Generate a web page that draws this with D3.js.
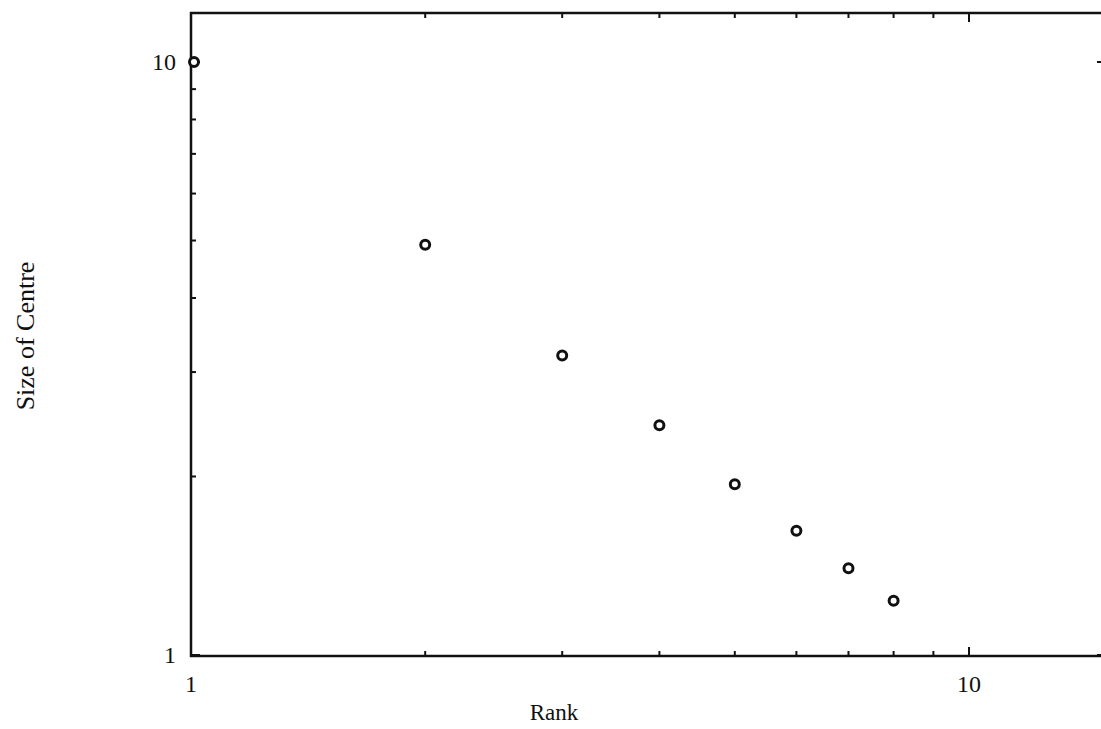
<!DOCTYPE html>
<html>
<head>
<meta charset="utf-8">
<script src="https://cdn.jsdelivr.net/npm/d3@7"></script>
<style>
  body { margin: 0; background: #fff; }
  text { font-family: "Liberation Serif", "DejaVu Serif", serif; fill: #111; }
</style>
</head>
<body>
<svg id="chart" width="1101" height="729"></svg>
<script>
// rank-size values
var ranks = [1, 2, 3, 4, 5, 6, 7, 8];
var sizes = [10, 4.92, 3.2, 2.44, 1.94, 1.62, 1.40, 1.235];
var xTickLabels = ["1", "10"];
var yTickLabels = ["1", "10"];

var svg = d3.select("#chart");

// frame edges (right edge falls just outside the picture)
var frame = { left: 191, right: 1106, top: 13, bottom: 656 };

var x = d3.scaleLog().domain([1, 10]).range([191, 969]);
var y = d3.scaleLog().domain([1, 10]).range([655, 62]);

var minor = d3.range(1, 11);

// frame
svg.append("rect")
    .attr("x", frame.left).attr("y", frame.top)
    .attr("width", frame.right - frame.left).attr("height", frame.bottom - frame.top)
    .attr("fill", "none")
    .attr("stroke", "#111")
    .attr("stroke-width", 2.5);

var tickLen = d => (d == 1 || d == 10) ? 9 : 5;

// x ticks, bottom (pointing up) and top (pointing down)
svg.append("g").selectAll("line")
    .data(minor)
    .enter().append("line")
    .attr("x1", d => x(d)).attr("x2", d => x(d))
    .attr("y1", frame.bottom).attr("y2", d => frame.bottom - tickLen(d))
    .attr("stroke", "#111").attr("stroke-width", 2);

svg.append("g").selectAll("line")
    .data(minor)
    .enter().append("line")
    .attr("x1", d => x(d)).attr("x2", d => x(d))
    .attr("y1", frame.top).attr("y2", d => frame.top + tickLen(d))
    .attr("stroke", "#111").attr("stroke-width", 2);

// y ticks, left (pointing right) and right (pointing left)
svg.append("g").selectAll("line")
    .data(minor)
    .enter().append("line")
    .attr("y1", d => y(d)).attr("y2", d => y(d))
    .attr("x1", frame.left).attr("x2", d => frame.left + tickLen(d))
    .attr("stroke", "#111").attr("stroke-width", 2);

svg.append("g").selectAll("line")
    .data(minor)
    .enter().append("line")
    .attr("y1", d => y(d)).attr("y2", d => y(d))
    .attr("x1", frame.right).attr("x2", d => frame.right - tickLen(d))
    .attr("stroke", "#111").attr("stroke-width", 2);

// tick labels
svg.append("g").selectAll("text")
    .data(xTickLabels)
    .enter().append("text")
    .attr("x", d => x(+d))
    .attr("y", 692)
    .attr("text-anchor", "middle")
    .attr("font-size", 24)
    .text(d => d);

svg.append("g").selectAll("text")
    .data(yTickLabels)
    .enter().append("text")
    .attr("x", 176)
    .attr("y", d => y(+d) + 8)
    .attr("text-anchor", "end")
    .attr("font-size", 24)
    .text(d => d);

// axis titles
svg.append("text")
    .attr("x", 554).attr("y", 720)
    .attr("text-anchor", "middle")
    .attr("font-size", 23)
    .text("Rank");

svg.append("text")
    .attr("transform", "translate(34,336) rotate(-90)")
    .attr("text-anchor", "middle")
    .attr("font-size", 26)
    .text("Size of Centre");

// points
svg.append("g").selectAll("circle")
    .data(ranks)
    .enter().append("circle")
    .attr("cx", (d, i) => x(d) + (i == 0 ? 3 : 0))
    .attr("cy", (d, i) => y(sizes[i]))
    .attr("r", 4.5)
    .attr("fill", "#fff")
    .attr("stroke", "#111")
    .attr("stroke-width", 3);
</script>
</body>
</html>
